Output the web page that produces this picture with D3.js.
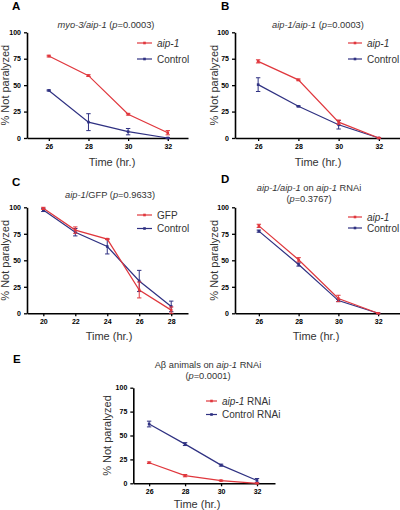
<!DOCTYPE html>
<html><head><meta charset="utf-8">
<script src="https://cdn.jsdelivr.net/npm/d3@7"></script>
<style>body{margin:0;background:#fff}svg{display:block}text{font-family:"Liberation Sans",Arial,sans-serif}</style>
</head><body><div id="c"></div>
<script>
// ---- data ----
const yTicks = [0, 25, 50, 75, 100];
const timesA = [26, 28, 30, 32];
const aRed = [77.5, 59, 22.5, 5];
const aRedErr = [0.8, 0.8, 0.8, 2];
const aBlue = [45, 15, 6, 0];
const aBlueErr = [0.5, 8, 3, 0.5];

const timesB = [26, 28, 30, 32];
const bRed = [72.5, 55, 15, 0];
const bRedErr = [1.5, 0.8, 2, 0.3];
const bBlue = [50.5, 30, 12.5, 0];
const bBlueErr = [6.5, 0.5, 4, 0.3];

const timesC = [20, 22, 24, 26, 28];
const cRed = [99, 78.5, 70, 22, 3];
const cRedErr = [1, 3, 0.5, 7.5, 3];
const cBlue = [97.5, 76.5, 63, 30.5, 6.5];
const cBlueErr = [1.5, 3.5, 7, 10, 5];

const timesD = [26, 28, 30, 32];
const dRed = [82.5, 50.5, 14, 0];
const dRedErr = [1.5, 2, 3, 0.3];
const dBlue = [77.5, 46, 12, 0];
const dBlueErr = [1, 1.5, 1, 0.3];

const timesE = [26, 28, 30, 32];
const eRed = [21.5, 8, 2.8, 0];
const eRedErr = [0.8, 1.2, 0.5, 0.3];
const eBlue = [62, 41, 19, 3];
const eBlueErr = [3, 1.5, 1, 2];

const RED = "#e0373d", BLUE = "#2f3182";

const panels = [
  {letter:"A", lx:12, ly:10, title:[["myo-3/aip-1",true],[" (",false],["p",true],["=0.0003)",false]], title2:null, tx:106, ty:28,
   x0:27, x1:188, y0:32.3, y1:138, dom:[24.9,33.02], times:timesA, red:aRed, redErr:aRedErr, blue:aBlue, blueErr:aBlueErr,
   leg:[[["aip-1",true]],[["Control",false]]], legX:137, legY:[43,59], legW:15, ylx:5, xlx:112, xly:166},
  {letter:"B", lx:221, ly:10, title:[["aip-1/aip-1",true],[" (",false],["p",true],["=0.0003)",false]], title2:null, tx:318, ty:28,
   x0:235, x1:400, y0:32.3, y1:138, dom:[24.85,33.05], times:timesB, red:bRed, redErr:bRedErr, blue:bBlue, blueErr:bBlueErr,
   leg:[[["aip-1",true]],[["Control",false]]], legX:348, legY:[43,59], legW:14, ylx:214, xlx:318, xly:166},
  {letter:"C", lx:12, ly:186, title:[["aip-1",true],["/GFP (",false],["p",true],["=0.9633)",false]], title2:null, tx:110, ty:197.5,
   x0:27, x1:188, y0:207.3, y1:313.3, dom:[18.98,29.05], times:timesC, red:cRed, redErr:cRedErr, blue:cBlue, blueErr:cBlueErr,
   leg:[[["GFP",false]],[["Control",false]]], legX:137, legY:[215,228.5], legW:15, ylx:5, xlx:109, xly:339.5},
  {letter:"D", lx:221, ly:183, title:[["aip-1/aip-1",true],[" on ",false],["aip-1",true],[" RNAi",false]], title2:[["(",false],["p",true],["=0.3767)",false]], tx:309, ty:191,
   x0:235, x1:400, y0:207.3, y1:313.3, dom:[24.8,33.1], times:timesD, red:dRed, redErr:dRedErr, blue:dBlue, blueErr:dBlueErr,
   leg:[[["aip-1",true]],[["Control",false]]], legX:348, legY:[217,228], legW:14, ylx:214, xlx:316, xly:339.5},
  {letter:"E", lx:13, ly:363, title:[["A\u03b2 animals on ",false],["aip-1",true],[" RNAi",false]], title2:[["(",false],["p",true],["=0.0001)",false]], tx:208, ty:368,
   x0:133.3, x1:275, y0:387.7, y1:483.3, dom:[25.12,33], times:timesE, red:eRed, redErr:eRedErr, blue:eBlue, blueErr:eBlueErr,
   leg:[[["aip-1",true],[" RNAi",false]],[["Control RNAi",false]]], legX:206, legY:[401,414.5], legW:11, ylx:107, xlx:197, xly:507.5}
];

const svg = d3.select("#c").append("svg").attr("width",400).attr("height",510);

function rich(sel, parts){
  parts.forEach(([t,it])=>{ sel.append("tspan").text(t).attr("font-style", it?"italic":"normal"); });
}

panels.forEach(p=>{
  const g = svg.append("g");
  const x = d3.scaleLinear().domain(p.dom).range([p.x0,p.x1]);
  const y = d3.scaleLinear().domain([0,100]).range([p.y1,p.y0]);

  g.append("text").attr("x",p.lx).attr("y",p.ly).attr("font-size",11.5).attr("font-weight","bold").text(p.letter);
  const t1 = g.append("text").attr("x",p.tx).attr("y",p.ty).attr("text-anchor","middle").attr("font-size",9.3).attr("fill","#333");
  rich(t1,p.title);
  if(p.title2){
    const t2 = g.append("text").attr("x",p.tx).attr("y",p.ty+11).attr("text-anchor","middle").attr("font-size",9.3).attr("fill","#333");
    rich(t2,p.title2);
  }

  // axes
  const ya = g.append("g").attr("transform",`translate(${p.x0},0)`)
    .call(d3.axisLeft(y).tickValues(yTicks).tickSize(3).tickSizeOuter(0).tickPadding(3));
  const xa = g.append("g").attr("transform",`translate(0,${p.y1})`)
    .call(d3.axisBottom(x).tickValues(p.times).tickSize(3).tickSizeOuter(0).tickPadding(3));
  [ya,xa].forEach(a=>{
    a.select(".domain").attr("stroke","#000").attr("stroke-width",1.6);
    a.selectAll(".tick line").attr("stroke","#000").attr("stroke-width",1.3);
    a.selectAll(".tick text").attr("font-size",7).attr("font-weight","bold").attr("fill","#000")
      .attr("font-family","'Liberation Sans',Arial,sans-serif");
  });

  g.append("text").attr("transform",`translate(${p.ylx+4},${(p.y0+p.y1)/2}) rotate(-90)`)
    .attr("text-anchor","middle").attr("font-size",11).attr("fill","#333").text("% Not paralyzed");
  g.append("text").attr("x",p.xlx).attr("y",p.xly).attr("text-anchor","middle").attr("font-size",11).attr("fill","#333").text("Time (hr.)");

  const line = d3.line().x((d,i)=>x(p.times[i])).y(d=>y(d));
  [[p.blue,p.blueErr,BLUE],[p.red,p.redErr,RED]].forEach(([vals,errs,col])=>{
    g.append("path").datum(vals).attr("d",line).attr("fill","none").attr("stroke",col).attr("stroke-width",1.2);
    vals.forEach((v,i)=>{
      const cx = x(p.times[i]);
      const e = errs[i];
      g.append("line").attr("x1",cx).attr("x2",cx).attr("y1",y(v-e)).attr("y2",y(v+e)).attr("stroke",col).attr("stroke-width",1);
      [v-e,v+e].forEach(b=>g.append("line").attr("x1",cx-2.2).attr("x2",cx+2.2).attr("y1",y(b)).attr("y2",y(b)).attr("stroke",col).attr("stroke-width",1));
      g.append("rect").attr("x",cx-1.3).attr("y",y(v)-1.3).attr("width",2.6).attr("height",2.6).attr("fill",col);
    });
  });

  // legend
  [RED,BLUE].forEach((col,k)=>{
    const ly = p.legY[k];
    g.append("line").attr("x1",p.legX).attr("x2",p.legX+p.legW).attr("y1",ly).attr("y2",ly).attr("stroke",col).attr("stroke-width",1.2);
    g.append("rect").attr("x",p.legX+p.legW/2-1.3).attr("y",ly-1.3).attr("width",2.6).attr("height",2.6).attr("fill",col);
    const lt = g.append("text").attr("x",p.legX+p.legW+5).attr("y",ly+3.5).attr("font-size",10).attr("fill","#333");
    rich(lt,p.leg[k]);
  });
});
</script></body></html>
